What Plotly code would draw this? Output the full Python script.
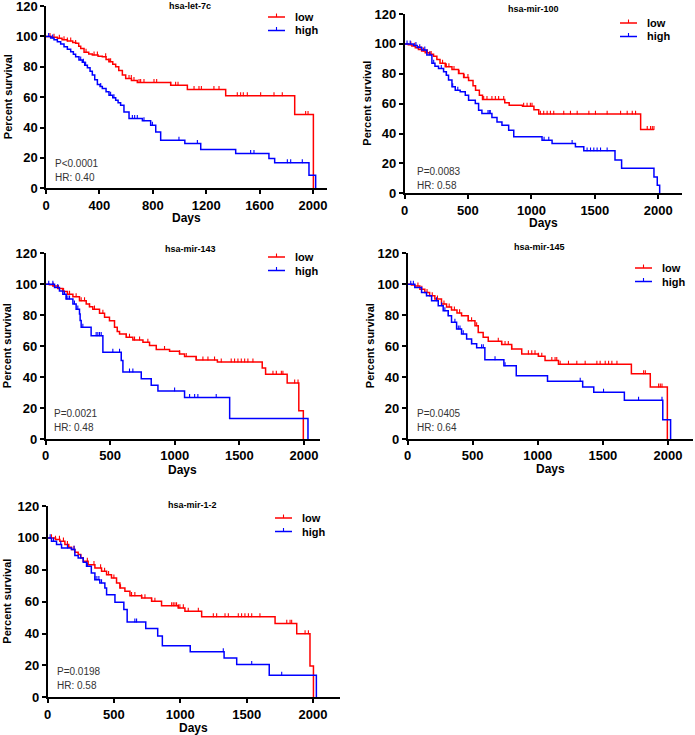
import plotly.graph_objects as go

# ---------------- data ----------------
titles = ["hsa-let-7c", "hsa-mir-100", "hsa-mir-143", "hsa-mir-145", "hsa-mir-1-2"]
p_texts = ["P<0.0001", "P=0.0083", "P=0.0021", "P=0.0405", "P=0.0198"]
hr_texts = ["HR: 0.40", "HR: 0.58", "HR: 0.48", "HR: 0.64", "HR: 0.58"]
group_names = ["low", "high"]
y_ticks = [0, 20, 40, 60, 80, 100, 120]
x_ticks_let7c = [0, 400, 800, 1200, 1600, 2000]
x_ticks_other = [0, 500, 1000, 1500, 2000]

let7c_low_t = [40, 85, 120, 160, 200, 222, 245, 260, 285, 320, 347, 390, 422, 450, 472, 500, 522, 545, 572, 597, 640, 684, 934, 1059, 1346, 1863, 2003]
let7c_low_s = [99.4, 98.7, 97.8, 96.9, 96.0, 95.4, 93.5, 92.0, 89.5, 88.4, 87.7, 87.0, 86.6, 84.8, 83.3, 81.6, 80.0, 77.5, 74.5, 72.3, 71.0, 69.7, 67.9, 65.0, 60.9, 48.6, 0]
let7c_low_c = [30, 60, 100, 135, 160, 185, 222, 300, 360, 385, 447, 472, 484, 622, 639, 659, 697, 709, 734, 809, 829, 934, 971, 989, 1109, 1146, 1164, 1258, 1296, 1433, 1458, 1478, 1508, 1608, 1708, 1770, 1945, 1963]
let7c_high_t = [35, 60, 85, 110, 135, 160, 185, 205, 222, 247, 272, 290, 310, 330, 347, 365, 385, 405, 422, 450, 472, 500, 522, 540, 559, 584, 622, 722, 784, 822, 859, 1040, 1159, 1421, 1670, 1713, 1970, 2020]
let7c_high_s = [98.9, 97.8, 96.5, 95.0, 93.2, 91.6, 89.9, 88.2, 86.6, 84.4, 82.9, 81.0, 79.3, 77.0, 74.5, 71.5, 68.4, 67.0, 65.7, 63.5, 61.3, 59.6, 58.0, 56.3, 54.7, 50.3, 45.9, 44.4, 41.5, 37.1, 31.6, 29.5, 25.5, 22.9, 19.6, 16.9, 8.6, 0]
let7c_high_c = [20, 50, 260, 280, 297, 410, 484, 509, 647, 664, 684, 734, 797, 996, 1134, 1533, 1558, 1808, 1833, 1920]

mir100_low_t = [30, 58, 85, 110, 135, 163, 195, 229, 255, 280, 321, 374, 426, 466, 505, 540, 560, 590, 615, 790, 825, 930, 1020, 1058, 1861]
mir100_low_s = [99.5, 98.5, 97.4, 96.3, 95.2, 94.1, 93.0, 91.8, 89.5, 87.0, 84.7, 82.9, 80.2, 77.5, 75.5, 72.0, 69.0, 65.7, 62.8, 60.6, 59.0, 58.3, 56.0, 53.0, 42.7]
mir100_low_c = [50, 80, 110, 130, 150, 180, 200, 210, 300, 330, 350, 390, 430, 470, 500, 624, 650, 689, 716, 742, 782, 939, 966, 992, 1005, 1071, 1097, 1124, 1150, 1176, 1255, 1308, 1361, 1453, 1505, 1597, 1703, 1755, 1795, 1821, 1913, 1939, 1953, 1966]
mir100_high_t = [71, 100, 137, 176, 216, 240, 268, 308, 330, 347, 374, 400, 439, 479, 505, 558, 584, 610, 689, 729, 768, 821, 861, 1084, 1163, 1347, 1413, 1659, 1711, 1966, 1992, 2011]
mir100_high_s = [98.9, 97.5, 95.9, 92.5, 87.0, 85.0, 83.6, 81.3, 79.0, 75.8, 71.3, 69.0, 67.9, 65.7, 62.3, 60.1, 55.6, 53.4, 50.7, 47.8, 45.6, 42.2, 37.8, 35.5, 33.3, 31.1, 28.4, 22.3, 16.8, 10.9, 5.4, 0]
mir100_high_c = [20, 45, 90, 120, 160, 200, 230, 290, 330, 380, 420, 658, 668, 676, 1100, 1137, 1321, 1439, 1466, 1492, 1518, 1545, 1597]

mir143_low_t = [30, 57, 95, 134, 170, 212, 263, 315, 340, 366, 418, 457, 495, 534, 555, 573, 625, 676, 754, 805, 857, 960, 1037, 1076, 1166, 1330, 1677, 1703, 1870, 1960, 1995]
mir143_low_s = [99.6, 98.9, 97.2, 95.3, 93.5, 91.9, 89.3, 87.2, 85.5, 83.9, 81.2, 78.6, 76.4, 72.2, 69.5, 67.9, 65.7, 64.0, 62.5, 60.4, 57.8, 56.7, 55.0, 53.3, 51.0, 49.8, 45.8, 41.8, 36.2, 18.2, 0]
mir143_low_c = [60, 100, 140, 186, 237, 276, 302, 341, 379, 444, 625, 650, 689, 728, 792, 921, 1037, 1089, 1166, 1218, 1257, 1308, 1360, 1437, 1463, 1489, 1515, 1541, 1566, 1605, 1760, 1786, 1825, 1837, 1928, 1954]
mir143_high_t = [70, 108, 134, 160, 212, 237, 263, 268, 276, 353, 444, 586, 599, 741, 818, 870, 1076, 1425, 2031]
mir143_high_s = [97.9, 95.7, 93.6, 90.4, 87.2, 83.9, 80.7, 76.5, 72.2, 66.8, 56.1, 50.7, 43.3, 39.0, 34.7, 31.0, 26.8, 13.3, 0]
mir143_high_c = [25, 57, 95, 147, 160, 173, 186, 224, 250, 289, 392, 405, 418, 431, 521, 573, 650, 676, 999, 1115, 1154, 1179, 1321]

mir145_low_t = [30, 56, 95, 133, 170, 210, 261, 300, 338, 380, 415, 466, 518, 543, 581, 620, 723, 800, 877, 1005, 1056, 1159, 1719, 1864, 1995]
mir145_low_s = [99.5, 98.9, 96.8, 94.6, 92.5, 90.4, 87.2, 85.3, 83.3, 81.5, 79.7, 76.4, 73.2, 68.9, 65.7, 63.2, 61.0, 58.2, 55.0, 53.5, 50.7, 48.3, 42.2, 33.6, 0]
mir145_low_c = [80, 110, 150, 190, 230, 280, 320, 360, 400, 467, 492, 531, 697, 723, 749, 774, 800, 928, 954, 979, 1005, 1031, 1108, 1133, 1146, 1172, 1236, 1300, 1364, 1454, 1479, 1518, 1544, 1569, 1608, 1813, 1826, 1928, 1941, 1954]
mir145_high_t = [56, 108, 146, 185, 236, 274, 313, 338, 377, 415, 454, 492, 531, 594, 740, 835, 1075, 1345, 1430, 1665, 1960, 2020]
mir145_high_s = [97.9, 94.6, 92.5, 89.3, 86.1, 82.9, 79.7, 75.4, 71.1, 67.9, 64.7, 61.5, 58.9, 51.2, 47.3, 40.9, 37.3, 33.6, 30.2, 25.0, 12.4, 0]
mir145_high_c = [25, 45, 146, 223, 262, 287, 313, 364, 390, 403, 428, 492, 569, 582, 672, 749, 1326, 1505, 1774, 1954]

mir12_low_t = [60, 93, 131, 160, 181, 206, 231, 250, 269, 306, 357, 407, 445, 482, 520, 545, 583, 621, 709, 784, 859, 985, 1035, 1161, 1714, 1877, 1977, 2003]
mir12_low_s = [99.0, 97.9, 95.8, 94.2, 92.7, 91.0, 89.5, 87.5, 85.3, 83.2, 81.1, 79.0, 76.9, 74.8, 71.7, 68.6, 66.5, 63.7, 62.3, 60.2, 57.4, 56.0, 53.9, 50.5, 46.3, 39.8, 19.6, 0]
mir12_low_c = [30, 60, 90, 120, 150, 200, 250, 300, 350, 400, 430, 460, 500, 550, 633, 658, 709, 734, 784, 809, 935, 947, 960, 972, 985, 997, 1023, 1060, 1136, 1249, 1274, 1337, 1362, 1437, 1462, 1487, 1513, 1538, 1600, 1802, 1827, 1839, 1940, 1965]
mir12_high_t = [30, 68, 106, 181, 206, 231, 269, 294, 330, 357, 394, 432, 445, 508, 575, 600, 740, 830, 865, 1075, 1330, 1425, 1670, 2025]
mir12_high_s = [97.9, 95.8, 93.7, 92.7, 88.9, 87.4, 84.7, 82.2, 78.0, 73.8, 71.7, 68.6, 64.4, 59.7, 55.1, 47.2, 43.2, 38.5, 32.3, 28.5, 24.7, 20.5, 13.8, 0]
mir12_high_c = [20, 45, 100, 150, 200, 250, 300, 357, 372, 387, 407, 658, 671, 1324, 1538, 1764]

# ---------------- layout helpers ----------------
W, H = 695, 735
RED = "#FF0000"
BLUE = "#0000FF"
FONT = "Liberation Sans, Arial, sans-serif"


def fx(px):
    return px / W


def fy(py):
    return 1 - py / H


# per panel: (x of day 0, x of axis end, y of 120, y of 0) in pixels, x max in days
panels = [
    dict(box=(46, 327, 6, 188.3), xmax=2105, xt=x_ticks_let7c,
         low=(let7c_low_t, let7c_low_s, let7c_low_c), high=(let7c_high_t, let7c_high_s, let7c_high_c),
         title_xy=(190, 6), ytitle_x=8, days_y=218, stat_xy=(53, 164), leg=(293, 17)),
    dict(box=(404.5, 682, 14, 193.3), xmax=2187, xt=x_ticks_other,
         low=(mir100_low_t, mir100_low_s, mir100_low_c), high=(mir100_high_t, mir100_high_s, mir100_high_c),
         title_xy=(533, 9), ytitle_x=367, days_y=223, stat_xy=(415, 171), leg=(645, 23)),
    dict(box=(45.5, 320, 253.3, 439), xmax=2124, xt=x_ticks_other,
         low=(mir143_low_t, mir143_low_s, mir143_low_c), high=(mir143_high_t, mir143_high_s, mir143_high_c),
         title_xy=(190, 249), ytitle_x=7, days_y=470, stat_xy=(52, 413), leg=(293, 257)),
    dict(box=(407.5, 693, 253.3, 439), xmax=2192, xt=x_ticks_other,
         low=(mir145_low_t, mir145_low_s, mir145_low_c), high=(mir145_high_t, mir145_high_s, mir145_high_c),
         title_xy=(539, 247), ytitle_x=370, days_y=469, stat_xy=(415, 413), leg=(660, 268)),
    dict(box=(47.5, 340, 506, 697.3), xmax=2203, xt=x_ticks_other,
         low=(mir12_low_t, mir12_low_s, mir12_low_c), high=(mir12_high_t, mir12_high_s, mir12_high_c),
         title_xy=(192, 505), ytitle_x=7, days_y=728, stat_xy=(55, 671), leg=(300, 518)),
]
LEG_STEP = 13.5


def step_value(t, s, day):
    v = 100.0
    for ti, si in zip(t, s):
        if ti <= day:
            v = si
        else:
            break
    return v


fig = go.Figure()
layout = dict(
    template="none",
    width=W, height=H, margin=dict(l=0, r=0, t=0, b=0, autoexpand=False),
    paper_bgcolor="white", plot_bgcolor="white",
    font=dict(family=FONT, color="black"),
    showlegend=False,
)
annotations = []
shapes = []

for i, pn in enumerate(panels):
    k = i + 1
    xa = "x" if k == 1 else f"x{k}"
    ya = "y" if k == 1 else f"y{k}"
    x0, x1, ytop, ybot = pn["box"]
    lx, ly = pn["leg"]
    for j, (name, col, (t, s, c)) in enumerate(((group_names[0], RED, pn["low"]),
                                                 (group_names[1], BLUE, pn["high"]))):
        end = max(t[-1], max(c))
        xs = [0] + list(t) + [end]
        ys = [100] + list(s) + [s[-1]]
        fig.add_trace(go.Scatter(x=xs, y=ys, mode="lines", name=name,
                                 line=dict(color=col, width=1.5, shape="hv"),
                                 xaxis=xa, yaxis=ya, hoverinfo="skip"))
        cy = [step_value(t, s, d) for d in c]
        fig.add_trace(go.Scatter(x=c, y=cy, mode="markers", name=name + " censored",
                                 marker=dict(size=1, color=col),
                                 error_y=dict(type="data", symmetric=False, array=[2.3] * len(c),
                                              arrayminus=[0] * len(c), width=0, thickness=1.1, color=col),
                                 xaxis=xa, yaxis=ya, hoverinfo="skip"))
        # legend sample (line with censor tick) + label
        yy = ly + LEG_STEP * j
        shapes.append(dict(type="line", xref="paper", yref="paper", x0=fx(lx - 25), x1=fx(lx - 8),
                           y0=fy(yy), y1=fy(yy), line=dict(color=col, width=1.5)))
        shapes.append(dict(type="line", xref="paper", yref="paper", x0=fx(lx - 16.5), x1=fx(lx - 16.5),
                           y0=fy(yy), y1=fy(yy - 3.5), line=dict(color=col, width=1.1)))
        annotations.append(dict(text=name, x=fx(lx), y=fy(yy), xref="paper", yref="paper",
                                showarrow=False, xanchor="left", yanchor="middle",
                                font=dict(size=11, family=FONT, color="black", weight="bold")))

    layout["xaxis" if k == 1 else f"xaxis{k}"] = dict(
        domain=[fx(x0), fx(x1)], anchor=ya, range=[0, pn["xmax"]], automargin=False,
        tickvals=pn["xt"], ticktext=[str(v) for v in pn["xt"]], ticklabeloverflow="allow",
        ticks="outside", ticklen=4, tickwidth=1.5, tickcolor="black",
        showline=True, linewidth=1.5, linecolor="black", showgrid=False, zeroline=False,
        tickfont=dict(size=13, family=FONT, color="black", weight="bold"),
    )
    layout["yaxis" if k == 1 else f"yaxis{k}"] = dict(
        domain=[fy(ybot), fy(ytop)], anchor=xa, range=[0, 120], automargin=False,
        tickvals=y_ticks, ticktext=[str(v) for v in y_ticks], ticklabeloverflow="allow",
        ticks="outside", ticklen=4, tickwidth=1.5, tickcolor="black",
        showline=True, linewidth=1.5, linecolor="black", showgrid=False, zeroline=False,
        tickfont=dict(size=13, family=FONT, color="black", weight="bold"),
    )
    tx, ty = pn["title_xy"]
    annotations.append(dict(text=titles[i], x=fx(tx), y=fy(ty), xref="paper", yref="paper",
                            showarrow=False, xanchor="center", yanchor="middle",
                            font=dict(size=9, family=FONT, color="black", weight="bold")))
    annotations.append(dict(text="Percent survival", x=fx(pn["ytitle_x"]), y=fy((ytop + ybot) / 2),
                            xref="paper", yref="paper", showarrow=False, textangle=-90,
                            xanchor="center", yanchor="middle",
                            font=dict(size=11, family=FONT, color="black", weight="bold")))
    annotations.append(dict(text="Days", x=fx((x0 + x1) / 2), y=fy(pn["days_y"]), xref="paper", yref="paper",
                            showarrow=False, xanchor="center", yanchor="middle",
                            font=dict(size=12, family=FONT, color="black", weight="bold")))
    sx, sy = pn["stat_xy"]
    annotations.append(dict(text=p_texts[i], x=fx(sx), y=fy(sy), xref="paper", yref="paper",
                            showarrow=False, xanchor="left", yanchor="middle",
                            font=dict(size=10, family=FONT, color="#333333")))
    annotations.append(dict(text=hr_texts[i], x=fx(sx), y=fy(sy + 14), xref="paper", yref="paper",
                            showarrow=False, xanchor="left", yanchor="middle",
                            font=dict(size=10, family=FONT, color="#333333")))

layout["annotations"] = annotations
layout["shapes"] = shapes
fig.update_layout(**layout)
fig.write_html("out.html", config={"displayModeBar": False},
               post_script="document.body.style.margin='0';document.body.style.padding='0';")
